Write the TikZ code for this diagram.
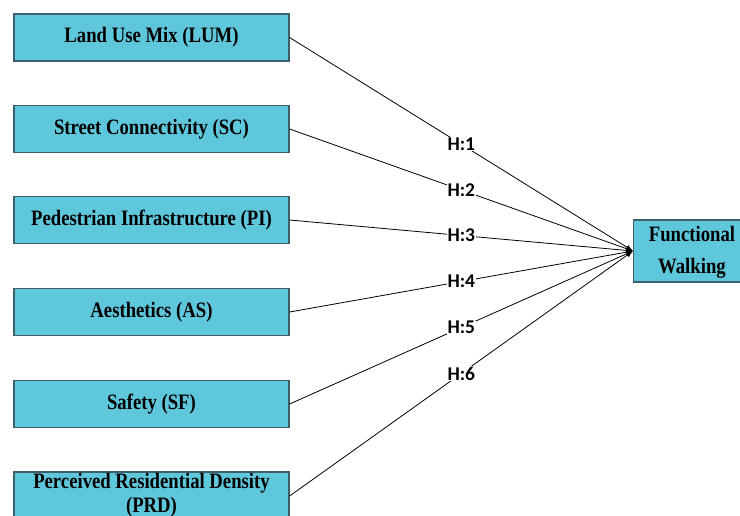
\documentclass[tikz,border=0pt]{standalone}
\usepackage{fontspec}
\setmainfont{Liberation Serif}
\newfontfamily\boxfont{Liberation Serif}[FakeStretch=0.85]
\newfontfamily\labfont{Carlito}
\usetikzlibrary{arrows.meta}
\definecolor{boxfill}{HTML}{5FC7DB}
\definecolor{boxline}{HTML}{3E5F6A}
\begin{document}
\begin{tikzpicture}[x=1pt,y=-1pt,
  boxtext/.style={font=\boxfont\fontsize{22}{31}\selectfont\bfseries},
  factor/.style={draw=boxline,line width=1.2pt,fill=boxfill,minimum width=275pt,minimum height=47pt,inner sep=0pt,boxtext},
  link/.style={draw=black,line width=0.8pt,-{Latex[length=7pt,width=5pt]}},
  hlab/.style={font=\labfont\fontsize{19.5}{21}\selectfont\bfseries,fill=white,inner sep=0.5pt,pos=0.5}]
\useasboundingbox (0,0) rectangle (740,516);
\node[factor] (lum) at (151.5,37.5) {Land Use Mix (LUM)};
\node[factor] (sc) at (151.5,129) {Street Connectivity (SC)};
\node[factor] (pi) at (151.5,220) {Pedestrian Infrastructure (PI)};
\node[factor] (as) at (151.5,312) {Aesthetics (AS)};
\node[factor] (sf) at (151.5,404) {Safety (SF)};
\node[factor,minimum height=48pt] (prd) at (151.5,496) {};
\node[boxtext,inner sep=0pt,anchor=base] (prdt1) at (151.5,488) {Perceived Residential Density};
\node[boxtext,inner sep=0pt,anchor=base] (prdt2) at (151.5,512) {(PRD)};
\node[draw=boxline,line width=1.2pt,fill=boxfill,minimum width=118pt,minimum height=62pt,inner sep=0pt,anchor=west] (fw) at (633,251) {};
\node[boxtext,inner sep=0pt,anchor=base] (fwt1) at (692,242) {Functional};
\node[boxtext,inner sep=0pt,anchor=base] (fwt2) at (692,273) {Walking};
\coordinate (tip) at (fw.west);
\draw[link] (lum.east) -- node[hlab]{H:1} (tip);
\draw[link] (sc.east) -- node[hlab]{H:2} (tip);
\draw[link] (pi.east) -- node[hlab]{H:3} (tip);
\draw[link] (as.east) -- node[hlab]{H:4} (tip);
\draw[link] (sf.east) -- node[hlab]{H:5} (tip);
\draw[link] (prd.east) -- node[hlab]{H:6} (tip);
\end{tikzpicture}
\end{document}
